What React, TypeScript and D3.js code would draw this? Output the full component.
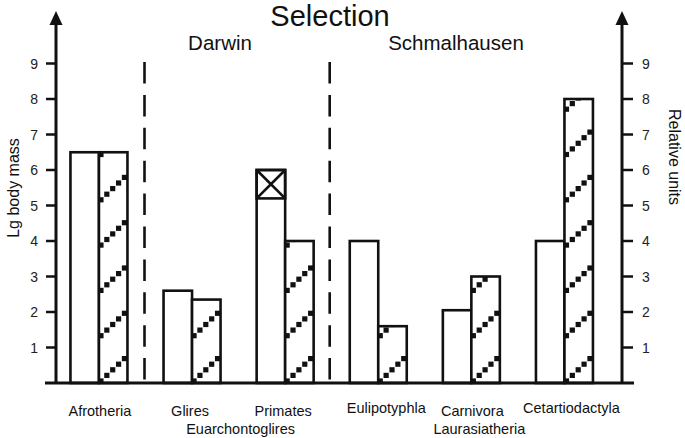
import React from "react";
import * as d3 from "d3";

// ---- data ----
const categories = ["Afrotheria", "Glires", "Primates", "Eulipotyphla", "Carnivora", "Cetartiodactyla"];
const lgBodyMass = [6.5, 2.6, 6.0, 4.0, 2.05, 4.0];
const relativeUnits = [6.5, 2.35, 4.0, 1.6, 3.0, 8.0];
const markedCategory = "Primates";
const markedRange = [5.2, 6.0];
const yTicks = [1, 2, 3, 4, 5, 6, 7, 8, 9];
const superorders = ["Euarchontoglires", "Laurasiatheria"];
const superorderMembers = [["Glires", "Primates"], ["Carnivora"]];
const sections = ["Darwin", "Schmalhausen"];
const title = "Selection";
const leftAxisLabel = "Lg body mass";
const rightAxisLabel = "Relative units";

// ---- layout ----
const W = 685;
const H = 438;
const FONT = "'Liberation Sans', Arial, Helvetica, sans-serif";
const axisLeftX = 56;
const axisRightX = 622;
const barW = 28.5;
const labelDx = [1, -2, -2, 8, 1, 7];
const labelY = [416, 416, 416, 413, 416, 413];
const superorderDx = [2, 8];
const superorderY = [434, 434];
const sectionX = [220, 456];
const hatchPeriod = 45.3;
const sqSize = 5.2;

export default function App() {
  const y = d3.scaleLinear().domain([0, 9]).range([383, 63.5]);
  const x = d3.scaleBand<string>().domain(categories).range([52.4, 611]).padding(0);
  const cx = (c: string) => (x(c) as number) + x.bandwidth() / 2;
  const y0 = y(0);

  const dividers = [x(categories[1]) as number - 1, x(categories[3]) as number - 2];

  const hatchSquares = (left: number, top: number) => {
    const sq: { x: number; y: number }[] = [];
    for (let k = 0; ; k++) {
      const base = y0 - 2 - k * hatchPeriod;
      if (base < top - 30) break;
      for (let i = 0; i < 5; i++) {
        sq.push({ x: left + 2 + i * ((barW - 5) / 4), y: base - i * 5.6 });
      }
    }
    return sq;
  };

  const arrow = (ax: number) => `M${ax},11 L${ax - 6.5},25 L${ax + 6.5},25 Z`;

  return (
    <svg width={W} height={H} style={{ position: "absolute", left: 0, top: 0, background: "#fff" }} fontFamily={FONT}>
      <defs>
        {categories.map((c, i) => (
          <clipPath id={`clip${i}`} key={c}>
            <rect x={cx(c)} y={y(relativeUnits[i])} width={barW} height={y0 - y(relativeUnits[i])} />
          </clipPath>
        ))}
      </defs>

      {/* title */}
      <text x={330} y={26} fontSize={29} textAnchor="middle" fill="#111">{title}</text>
      {sections.map((s, i) => (
        <text key={s} x={sectionX[i]} y={50} fontSize={20.5} textAnchor="middle" fill="#111">{s}</text>
      ))}

      {/* dividers */}
      {dividers.map((dx, i) => (
        <line key={i} x1={dx} x2={dx} y1={y(9) - 1.5} y2={y0} stroke="#111" strokeWidth={2.6} strokeDasharray="21.5 11.4" />
      ))}

      {/* bars */}
      {categories.map((c, i) => {
        const c0 = cx(c);
        const topL = y(lgBodyMass[i]);
        const topR = y(relativeUnits[i]);
        const sq = hatchSquares(c0, topR);
        return (
          <g key={c}>
            <rect x={c0 - barW} y={topL} width={barW} height={y0 - topL} fill="#fff" stroke="#111" strokeWidth={2.6} />
            {c === markedCategory && (
              <g stroke="#111" strokeWidth={2.6} fill="none">
                <rect x={c0 - barW} y={y(markedRange[1])} width={barW} height={y(markedRange[0]) - y(markedRange[1])} />
                <line x1={c0 - barW} y1={y(markedRange[1])} x2={c0} y2={y(markedRange[0])} />
                <line x1={c0} y1={y(markedRange[1])} x2={c0 - barW} y2={y(markedRange[0])} />
              </g>
            )}
            <rect x={c0} y={topR} width={barW} height={y0 - topR} fill="#fff" />
            <g clipPath={`url(#clip${i})`}>
              {sq.map((s, j) => (
                <rect key={j} x={s.x - sqSize / 2} y={s.y - sqSize / 2} width={sqSize} height={sqSize} fill="#111" />
              ))}
            </g>
            <rect x={c0} y={topR} width={barW} height={y0 - topR} fill="none" stroke="#111" strokeWidth={2.6} />
          </g>
        );
      })}

      {/* baseline */}
      <line x1={45} x2={634} y1={y0} y2={y0} stroke="#111" strokeWidth={3} />

      {/* left axis */}
      <line x1={axisLeftX} x2={axisLeftX} y1={y0} y2={20} stroke="#111" strokeWidth={3} />
      <path d={arrow(axisLeftX)} fill="#111" />
      {yTicks.map((t) => (
        <g key={`l${t}`}>
          <line x1={axisLeftX - 10} x2={axisLeftX} y1={y(t)} y2={y(t)} stroke="#111" strokeWidth={2.5} />
          <text x={38} y={y(t) + 5} fontSize={14} textAnchor="end" fill="#222">{t}</text>
        </g>
      ))}
      <text transform={`translate(19,${188}) rotate(-90)`} fontSize={16} textAnchor="middle" fill="#111">{leftAxisLabel}</text>

      {/* right axis */}
      <line x1={axisRightX} x2={axisRightX} y1={y0} y2={20} stroke="#111" strokeWidth={3} />
      <path d={arrow(axisRightX)} fill="#111" />
      {yTicks.map((t) => (
        <g key={`r${t}`}>
          <line x1={axisRightX} x2={axisRightX + 11} y1={y(t)} y2={y(t)} stroke="#111" strokeWidth={2.5} />
          <text x={642} y={y(t) + 5} fontSize={14} textAnchor="start" fill="#222">{t}</text>
        </g>
      ))}
      <text transform={`translate(669,${157}) rotate(90)`} fontSize={16} textAnchor="middle" fill="#111">{rightAxisLabel}</text>

      {/* category labels */}
      {categories.map((c, i) => (
        <text key={c} x={cx(c) + labelDx[i]} y={labelY[i]} fontSize={14.5} textAnchor="middle" fill="#111">{c}</text>
      ))}
      {superorders.map((s, i) => {
        const m = d3.mean(superorderMembers[i], (c) => cx(c)) as number;
        return (
          <text key={s} x={m + superorderDx[i]} y={superorderY[i]} fontSize={14.5} textAnchor="middle" fill="#111">{s}</text>
        );
      })}
    </svg>
  );
}
